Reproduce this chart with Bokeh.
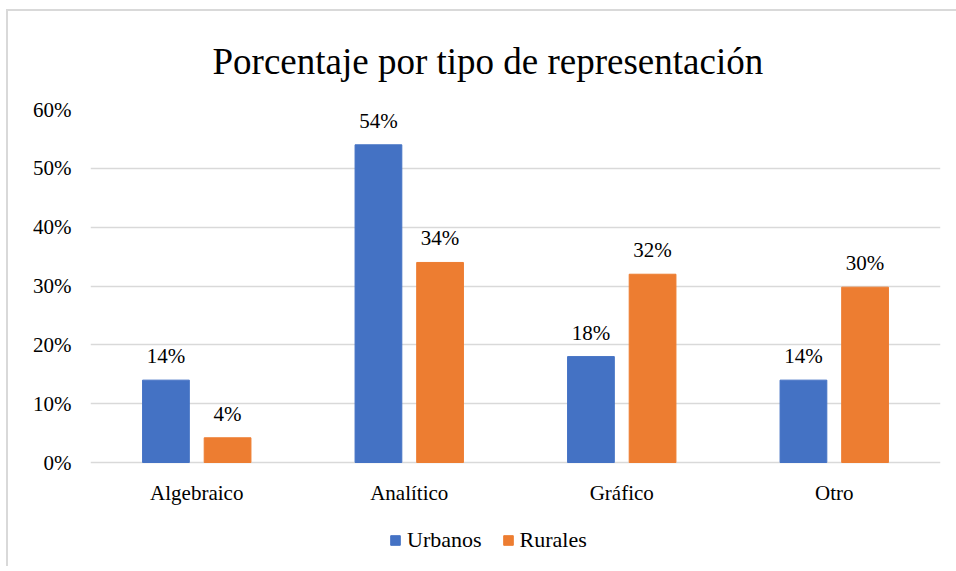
from bokeh.plotting import figure
from bokeh.models import ColumnDataSource, FactorRange, LabelSet, Legend, LegendItem, PrintfTickFormatter, FixedTicker
from bokeh.transform import dodge
from bokeh.embed import file_html
from bokeh.resources import INLINE

categories = ["Algebraico", "Analítico", "Gráfico", "Otro"]
series_names = ["Urbanos", "Rurales"]
urbanos = [14, 54, 18, 14]
rurales = [4.2, 34, 32, 29.8]
y_ticks = [0, 10, 20, 30, 40, 50, 60]

FONT = "Liberation Serif"
BLUE = "#4472C4"
ORANGE = "#ED7D31"

# pixel geometry of the plot area
PX_PER_UNIT = 353 / 60.0
FRAME_H = 457
Y_MAX = 60
Y_MIN = Y_MAX - FRAME_H / PX_PER_UNIT

src = ColumnDataSource(dict(
    cat=categories,
    urb=urbanos,
    rur=rurales,
    zero=[0] * len(categories),
    urb_lbl=[f"{round(v)}%" for v in urbanos],
    rur_lbl=[f"{round(v)}%" for v in rurales],
))

p = figure(x_range=FactorRange(*categories), y_range=(Y_MIN, Y_MAX),
           frame_width=850, frame_height=FRAME_H, output_backend="svg", toolbar_location=None,
           min_border_left=82, min_border_right=16, min_border_top=97, min_border_bottom=0)
p.x_range.range_padding = 0

r1 = p.vbar(x=dodge("cat", -0.145, range=p.x_range), top="urb", width=0.22, source=src,
            fill_color=BLUE, line_color=BLUE)
r2 = p.vbar(x=dodge("cat", 0.145, range=p.x_range), top="rur", width=0.22, source=src,
            fill_color=ORANGE, line_color=ORANGE)

for col, lbl, off in [("urb", "urb_lbl", -0.145), ("rur", "rur_lbl", 0.145)]:
    ls = LabelSet(x=dodge("cat", off, range=p.x_range), y=col, text=lbl, source=src,
                  text_align="center", text_baseline="bottom", y_offset=12,
                  text_font=FONT, text_font_size="21px", text_color="#000000")
    p.add_layout(ls)

# category labels under the baseline
cat_labels = LabelSet(x="cat", y="zero", text="cat", source=src,
                      text_align="center", text_baseline="middle", y_offset=-30,
                      text_font=FONT, text_font_size="21px", text_color="#000000")
p.add_layout(cat_labels)

p.title.text = "Porcentaje por tipo de representación"
p.title.text_font = FONT
p.title.text_font_size = "37px"
p.title.text_font_style = "normal"
p.title.text_color = "#000000"
p.title.align = "left"
p.title.offset = 122
p.title.standoff = 55

p.xgrid.grid_line_color = None
p.ygrid.ticker = FixedTicker(ticks=y_ticks)
p.ygrid.grid_line_color = "#D9D9D9"
p.ygrid.grid_line_width = 1.5
p.yaxis.ticker = FixedTicker(ticks=y_ticks)
p.yaxis.formatter = PrintfTickFormatter(format="%d%%")
p.yaxis.axis_line_color = None
p.yaxis.major_tick_line_color = None
p.yaxis.minor_tick_line_color = None
p.yaxis.major_label_text_font = FONT
p.yaxis.major_label_text_font_size = "21px"
p.yaxis.major_label_text_color = "#000000"
p.yaxis.major_label_standoff = 13

p.xaxis.visible = False

p.outline_line_color = None

legend = Legend(items=[LegendItem(label=series_names[0], renderers=[r1]),
                       LegendItem(label=series_names[1], renderers=[r2])],
                orientation="horizontal", location=(299, 13),
                label_text_font=FONT, label_text_font_size="22px", label_text_color="#000000",
                glyph_width=12, glyph_height=12, spacing=20, label_standoff=6,
                border_line_color=None, background_fill_alpha=0, padding=0, margin=0)
p.add_layout(legend, "center")
legend.label_text_font = FONT

p.styles = {"border-left": "2px solid #D9D9D9", "border-top": "2px solid #D9D9D9",
            "margin-left": "6px", "margin-top": "9px"}

open("out.html", "w").write(file_html(p, INLINE))
